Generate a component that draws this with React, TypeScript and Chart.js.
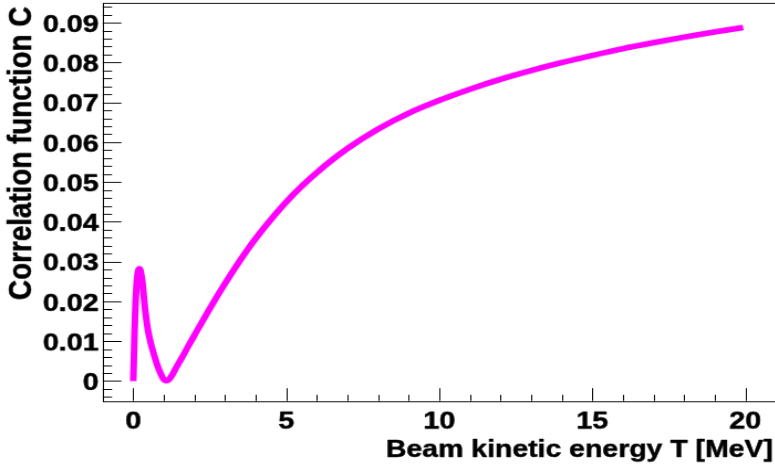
import React, { useEffect, useRef } from "react";
import { Chart, registerables } from "chart.js";

Chart.register(...registerables);

// Beam kinetic energy T [MeV]
const energies: number[] = [
  0, 0.02, 0.04, 0.06, 0.08, 0.1, 0.12, 0.14, 0.17, 0.2, 0.23, 0.26, 0.3, 0.35,
  0.4, 0.45, 0.5, 0.6, 0.7, 0.8, 0.9, 0.98, 1.05, 1.12, 1.2, 1.3, 1.42, 1.6,
  1.8, 2.0, 2.2, 2.5, 3.0, 3.5, 4.0, 4.5, 5.0, 5.5, 6.0, 7.0, 8.0, 9.0, 10,
  11, 12, 13, 14, 15, 16, 17, 18, 19, 19.93,
];
// Correlation function C
const correlation: number[] = [
  0, 0.0055, 0.0115, 0.0165, 0.0204, 0.0232, 0.0253, 0.0267, 0.0279, 0.0282,
  0.0279, 0.0268, 0.0248, 0.0208, 0.0172, 0.0143, 0.012, 0.0087, 0.006, 0.0037,
  0.0018, 0.0006, 0.0001, 0.0001, 0.0007, 0.0019, 0.0036, 0.006, 0.0088,
  0.0115, 0.0142, 0.0182, 0.0245, 0.0304, 0.0358, 0.0406, 0.045, 0.0489,
  0.0524, 0.0584, 0.0633, 0.0673, 0.0705, 0.0733, 0.0758, 0.078, 0.08, 0.0818,
  0.0835, 0.085, 0.0864, 0.0877, 0.0888,
];

const xMajorTicks: number[] = [0, 5, 10, 15, 20];
const xTickLabels: string[] = ["0", "5", "10", "15", "20"];
const yMajorTicks: number[] = [0, 0.01, 0.02, 0.03, 0.04, 0.05, 0.06, 0.07, 0.08, 0.09];
const yTickLabels: string[] = ["0", "0.01", "0.02", "0.03", "0.04", "0.05", "0.06", "0.07", "0.08", "0.09"];
const xTitle = "Beam kinetic energy T [MeV]";
const yTitle = "Correlation function C";

const X_MIN = -1;
const X_MAX = 21;
const Y_MIN = -0.005;
const Y_MAX = 0.095;

// internal canvas size, stretched via CSS (like the reference)
const CW = 704;
const CH = 500;
const SX = 775 / 700;
const SY = 471 / 500;

const FONT = '"Liberation Sans", Arial, Helvetica, sans-serif';

function boldText(ctx: CanvasRenderingContext2D, s: string, x: number, y: number) {
  ctx.fillText(s, x, y);
  ctx.strokeText(s, x, y);
}

const framePlugin = {
  id: "rootFrame",
  beforeDatasetsDraw(chart: any) {
    const ctx = chart.ctx as CanvasRenderingContext2D;
    const { left, right, top, bottom } = chart.chartArea;
    const xs = chart.scales.x;
    const ys = chart.scales.y;
    ctx.save();
    ctx.strokeStyle = "#000";
    ctx.lineWidth = 1;
    ctx.strokeRect(Math.round(left) + 0.5, Math.round(top) + 0.5, Math.round(right - left), Math.round(bottom - top));
    ctx.beginPath();
    for (let k = -2; k <= 47; k++) {
      const vv = k * 0.002;
      const isMajor = k % 5 === 0;
      const y = Math.round(ys.getPixelForValue(vv)) + 0.5;
      const len = isMajor ? 17 : 8.5;
      ctx.moveTo(left, y);
      ctx.lineTo(left + len, y);
    }
    for (let v = X_MIN; v <= X_MAX; v += 1) {
      const isMajor = v % 5 === 0;
      const x = Math.round(xs.getPixelForValue(v)) + 0.5;
      const len = isMajor ? 13.5 : 6.5;
      ctx.moveTo(x, bottom);
      ctx.lineTo(x, bottom - len);
    }
    ctx.stroke();
    ctx.restore();
  },
  afterDraw(chart: any) {
    const ctx = chart.ctx as CanvasRenderingContext2D;
    const { left, bottom } = chart.chartArea;
    const xs = chart.scales.x;
    const ys = chart.scales.y;
    ctx.save();
    ctx.fillStyle = "#000";
    ctx.strokeStyle = "#000";
    ctx.lineWidth = 0.5;
    ctx.lineJoin = "round";
    ctx.font = `bold 26px ${FONT}`;
    ctx.textBaseline = "alphabetic";
    ctx.textAlign = "right";
    yMajorTicks.forEach((v, i) => {
      const y = ys.getPixelForValue(v);
      boldText(ctx, yTickLabels[i], left - 3.5, y + 9.8);
    });
    ctx.textAlign = "center";
    xMajorTicks.forEach((v, i) => {
      const x = xs.getPixelForValue(v);
      boldText(ctx, xTickLabels[i], x, bottom + 29);
    });
    ctx.font = `bold 25.7px ${FONT}`;
    ctx.textAlign = "right";
    boldText(ctx, xTitle, 698.5, bottom + 59);
    ctx.font = `bold 29.5px ${FONT}`;
    ctx.translate(27.5, 7);
    ctx.rotate(-Math.PI / 2);
    ctx.textAlign = "right";
    boldText(ctx, yTitle, 0, 0);
    ctx.restore();
  },
};

export default function App() {
  const ref = useRef<HTMLCanvasElement | null>(null);
  useEffect(() => {
    if (!ref.current) return;
    const points = energies.map((t, i) => ({ x: t, y: correlation[i] }));
    const chart = new Chart(ref.current, {
      type: "line",
      data: {
        datasets: [
          {
            data: points,
            borderColor: "#ff00ff",
            backgroundColor: "#ff00ff",
            borderWidth: 6,
            pointRadius: 0,
            fill: false,
            cubicInterpolationMode: "monotone",
            borderCapStyle: "butt",
          },
        ],
      },
      options: {
        responsive: false,
        maintainAspectRatio: false,
        devicePixelRatio: 1,
        animation: false,
        layout: { padding: { left: 92.75, top: 3, right: CW - 701.2, bottom: CH - 425.6 } },
        plugins: { legend: { display: false }, tooltip: { enabled: false } },
        scales: {
          x: { type: "linear", min: X_MIN, max: X_MAX, display: false },
          y: { type: "linear", min: Y_MIN, max: Y_MAX, display: false },
        },
      },
      plugins: [framePlugin],
    });
    return () => chart.destroy();
  }, []);
  return (
    <div style={{ position: "fixed", left: 0, top: 0, width: 775, height: 471, overflow: "hidden", background: "#fff" }}>
      <canvas
        ref={ref}
        width={CW}
        height={CH}
        style={{ display: "block", width: `${CW * SX}px`, height: `${CH * SY}px` }}
      />
    </div>
  );
}
